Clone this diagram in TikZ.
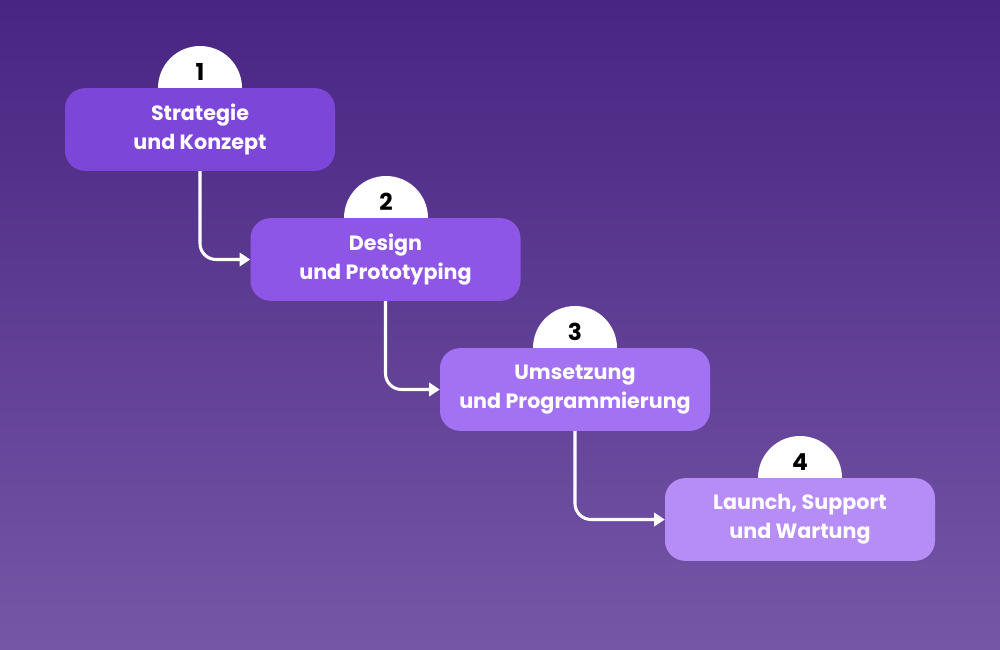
\documentclass[tikz,border=0pt]{standalone}
\usepackage{fontspec}
\setmainfont{Poppins}
\usetikzlibrary{positioning, arrows.meta}
\definecolor{bgtop}{HTML}{482582}
\definecolor{bgbot}{HTML}{7556A6}
\definecolor{stepA}{HTML}{7C46D8}
\definecolor{stepB}{HTML}{8D56E6}
\definecolor{stepC}{HTML}{A372F2}
\definecolor{stepD}{HTML}{B68CF6}
\tikzset{
  stage/.style={rounded corners=15pt, minimum width=202.5pt, minimum height=62pt,
    align=center, text=white, font=\bfseries\fontsize{15.5}{22}\selectfont},
  tab/.style={fill=white},
  num/.style={font=\bfseries\fontsize{17.5}{17.5}\selectfont, text=black},
  flow/.style={draw=white, line width=2.3pt, rounded corners=12pt, -{Triangle[length=8pt,width=10pt]}}
}
\begin{document}
\begin{tikzpicture}[x=0.75pt,y=-0.75pt]
  \shade[top color=bgtop, bottom color=bgbot] (0,0) rectangle (1000,650);
  \useasboundingbox (0,0) rectangle (1000,650);

  % tabs
  \foreach \cx/\cy/\n/\lbl in {200/88/1/t1, 386/218/2/t2, 575/348/3/t3, 800/478/4/t4} {
    \fill[tab] (\cx-42,\cy) arc[start angle=180, end angle=0, radius=31.5pt] -- cycle;
    \node[num] (\lbl) at (\cx,\cy-16) {\n};
  }

  \node[stage, fill=stepA] (s1) at (200,129.5) {Strategie\\und Konzept};
  \node[stage, fill=stepB] (s2) at (385.5,259.5) {Design\\und Prototyping};
  \node[stage, fill=stepC] (s3) at (575,389.5) {Umsetzung\\und Programmierung};
  \node[stage, fill=stepD] (s4) at (800,519.5) {Launch, Support\\und Wartung};

  \draw[flow] (s1.south) |- (s2.west);
  \draw[flow] (s2.south) |- (s3.west);
  \draw[flow] (s3.south) |- (s4.west);
\end{tikzpicture}
\end{document}
